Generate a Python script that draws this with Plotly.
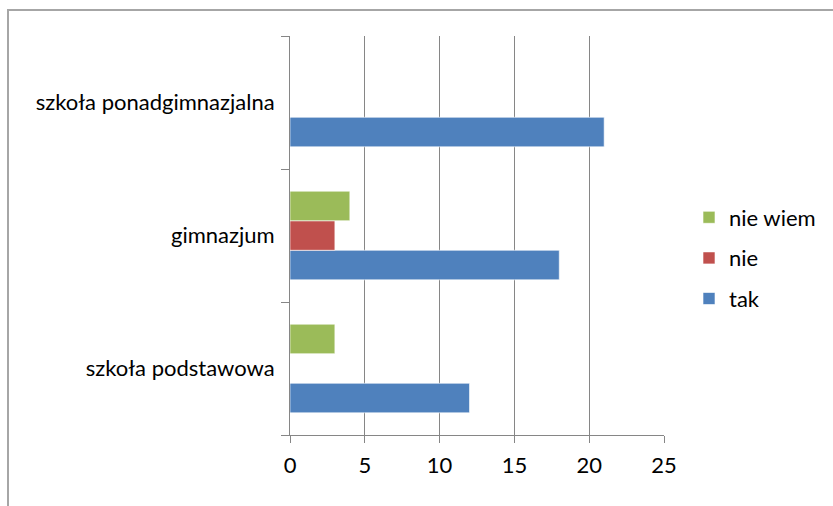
import plotly.graph_objects as go

categories = ["szkoła podstawowa", "gimnazjum", "szkoła ponadgimnazjalna"]
tak = [12, 18, 21]
nie = [0, 3, 0]
nie_wiem = [3, 4, 0]
series_names = ["tak", "nie", "nie wiem"]
colors = ["#4F81BD", "#C0504D", "#9BBB59"]
legend_ranks = [3, 2, 1]
x_ticks = [0, 5, 10, 15, 20, 25]

W, H = 833, 506
L, R, T, B = 290, 664, 36, 435

fig = go.Figure()
for name, vals, col, rk in zip(series_names, [tak, nie, nie_wiem], colors, legend_ranks):
    fig.add_trace(go.Bar(
        y=categories, x=vals, name=name, orientation="h", legendgroup=name,
        legendrank=rk,
        marker=dict(color=col, line=dict(color="rgba(255,255,255,0.6)", width=1)),
    ))

font = dict(family="Lato, Carlito, Calibri, sans-serif", size=22, color="#000000")

fig.update_layout(
    width=W, height=H,
    barmode="group", bargap=1/3, bargroupgap=0,
    plot_bgcolor="white", paper_bgcolor="white",
    margin=dict(l=L, r=W - R, t=T, b=H - B, pad=0),
    font=font,
    showlegend=True,
    legend=dict(traceorder="grouped", x=(689 - L) / (R - L), y=(B - 258) / (B - T),
                xanchor="left", yanchor="middle", font=font,
                itemwidth=30, tracegroupgap=9, bgcolor="rgba(0,0,0,0)",
                borderwidth=0),
    xaxis=dict(range=[0, 25], tickvals=x_ticks, showgrid=True, gridcolor="#868686",
               gridwidth=1, zeroline=False, showline=True, linecolor="#868686",
               ticks="outside", ticklen=7, tickcolor="#868686", tickfont=font,
               ticklabelstandoff=4, fixedrange=True),
    yaxis=dict(type="category", showgrid=False, zeroline=False, showline=True,
               linecolor="#868686", ticks="outside", ticklen=8, tickcolor="#868686",
               tickson="boundaries", tickfont=font, ticklabelstandoff=10,
               fixedrange=True),
)

# outer chart border
fig.add_shape(type="rect", xref="paper", yref="paper",
              x0=(8 - L) / (R - L), x1=(W + 20 - L) / (R - L),
              y0=(B - (H + 20)) / (B - T), y1=(B - 10) / (B - T),
              line=dict(color="#A6A6A6", width=2), fillcolor="rgba(0,0,0,0)",
              layer="below")

fig.write_html(
    "out.html",
    config={"displayModeBar": False},
    post_script="document.body.style.margin='0';document.body.style.overflow='hidden';",
)
